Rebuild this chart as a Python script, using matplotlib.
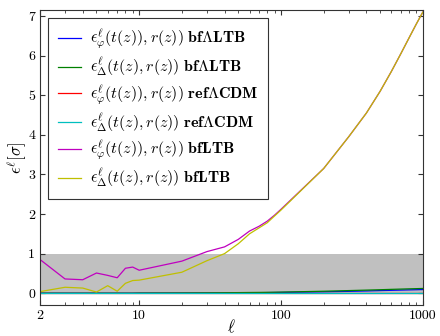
import matplotlib
matplotlib.use("Agg")
import matplotlib.pyplot as plt
import matplotlib.ticker as ticker

plt.rcParams['font.family'] = ['cmr10', 'DejaVu Serif']
plt.rcParams['mathtext.fontset'] = 'cm'
plt.rcParams['axes.formatter.use_mathtext'] = True
plt.rcParams['axes.unicode_minus'] = False

# multipoles
ell = [2, 3, 4, 5, 6, 7, 8, 9, 10, 20, 30, 40, 50, 60, 70, 80, 90, 100,
       200, 300, 400, 500, 600, 700, 800, 900, 1000]

# errors in units of sigma
phi_bflLTB = [0.0, 0.0, 0.0, 0.0, 0.0, 0.0, 0.0, 0.0, 0.002, 0.004, 0.006, 0.008, 0.01, 0.012,
              0.014, 0.016, 0.018, 0.02, 0.035, 0.047, 0.057, 0.066, 0.073, 0.079, 0.084, 0.088, 0.092]
delta_bflLTB = [0.0, 0.0, 0.0, 0.0, 0.0, 0.0, 0.0, 0.0, 0.003, 0.006, 0.009, 0.012, 0.015, 0.018,
                0.02, 0.022, 0.025, 0.028, 0.05, 0.066, 0.078, 0.088, 0.097, 0.104, 0.11, 0.115, 0.12]
phi_refLCDM = [0.0] * len(ell)
delta_refLCDM = [0.0] * len(ell)
phi_bfLTB = [0.85, 0.36, 0.34, 0.51, 0.45, 0.39, 0.63, 0.66, 0.58, 0.81, 1.05, 1.17, 1.36, 1.57,
             1.69, 1.82, 1.97, 2.12, 3.15, 3.95, 4.55, 5.1, 5.6, 6.05, 6.45, 6.8, 7.1]
delta_bfLTB = [0.04, 0.15, 0.13, 0.03, 0.19, 0.05, 0.25, 0.32, 0.33, 0.53, 0.82, 1.0, 1.25, 1.5,
               1.65, 1.78, 1.95, 2.1, 3.15, 3.95, 4.55, 5.1, 5.6, 6.05, 6.45, 6.8, 7.1]

labels = [r'$\epsilon^{\ell}_{\varphi}(t(z)),r(z))\ \mathbf{bf\Lambda LTB}$',
          r'$\epsilon^{\ell}_{\Delta}(t(z),r(z))\ \mathbf{bf\Lambda LTB}$',
          r'$\epsilon^{\ell}_{\varphi}(t(z)),r(z))\ \mathbf{ref\Lambda CDM}$',
          r'$\epsilon^{\ell}_{\Delta}(t(z),r(z))\ \mathbf{ref\Lambda CDM}$',
          r'$\epsilon^{\ell}_{\varphi}(t(z)),r(z))\ \mathbf{bfLTB}$',
          r'$\epsilon^{\ell}_{\Delta}(t(z),r(z))\ \mathbf{bfLTB}$']
series = [phi_bflLTB, delta_bflLTB, phi_refLCDM, delta_refLCDM, phi_bfLTB, delta_bfLTB]
colors = ['#0000ff', '#008000', '#ff0000', '#00bfbf', '#bf00bf', '#bfbf00']

fig = plt.figure(figsize=(4.4, 3.36), dpi=100)
ax = fig.add_axes([0.091, 0.092, 0.87, 0.878])

ax.axhspan(0, 1, color='#c0c0c0', lw=0, zorder=0)
for y, c, lab in zip(series, colors, labels):
    ax.plot(ell, y, color=c, lw=0.9, label=lab)

ax.set_xscale('log')
ax.set_xlim(2, 1000)
ax.set_ylim(-0.3, 7.15)
ax.set_xticks([2, 10, 100, 1000])
ax.xaxis.set_major_formatter(ticker.FixedFormatter(['2', '10', '100', '1000']))
ax.set_yticks(range(8))
ax.yaxis.set_major_formatter(ticker.FormatStrFormatter('%d'))
ax.tick_params(which='both', direction='in', top=True, right=True, labelsize=10, color='#333333')
ax.tick_params(which='major', length=3.5, width=0.8)
ax.tick_params(which='minor', length=2, width=0.6)
for s in ax.spines.values():
    s.set_color('#333333')

ax.set_xlabel(r'$\ell$', fontsize=12, labelpad=-3)
ax.set_ylabel(r'$\epsilon^{\ell}[\sigma]$', fontsize=12, labelpad=-1)

leg = ax.legend(loc='upper left', fontsize=11.5, fancybox=False, framealpha=1,
                edgecolor='#333333', handlelength=1.45, handletextpad=0.6,
                labelspacing=0.3, borderpad=0.6, borderaxespad=0.5)
leg.get_frame().set_linewidth(0.8)

fig.savefig('out.png', dpi=100)
